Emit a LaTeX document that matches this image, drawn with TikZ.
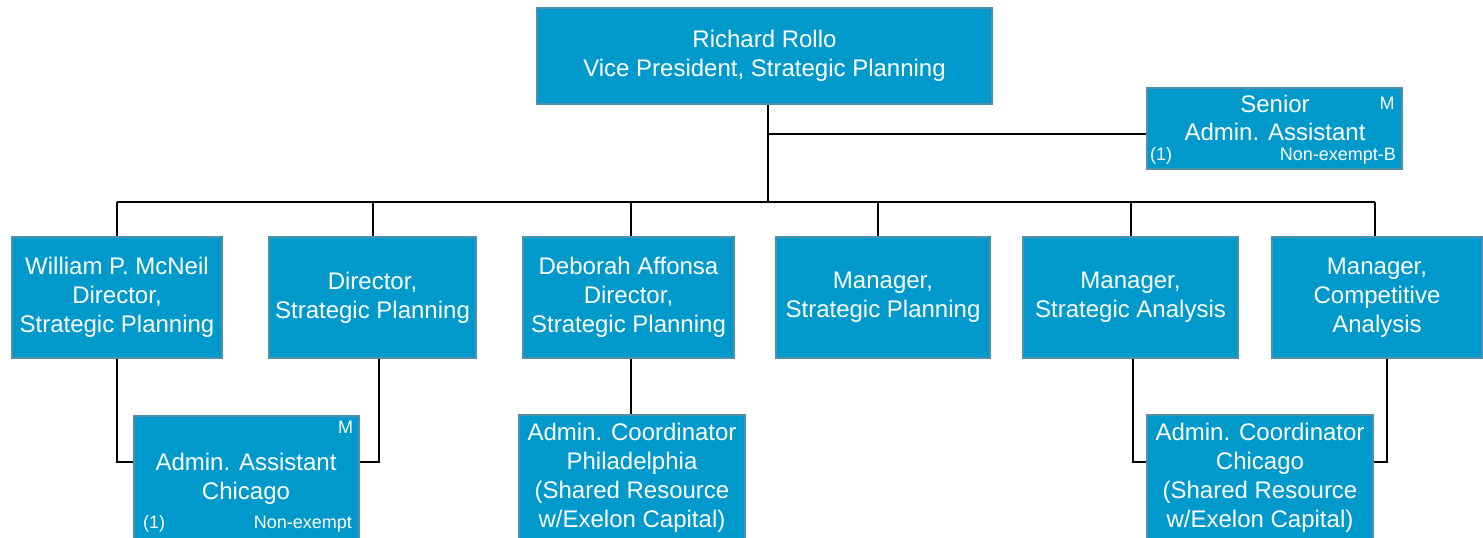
\documentclass[tikz,border=0pt]{standalone}
\usepackage{fontspec}
\setmainfont{Liberation Sans}
\definecolor{boxblue}{RGB}{0,153,204}
\definecolor{boxedge}{RGB}{80,144,172}
\begin{document}
\begin{tikzpicture}[x=1pt,y=-1pt,
  orgbox/.style={draw=boxedge, line width=2pt, fill=boxblue, text=white,
    font=\fontsize{24}{29}\selectfont, align=center, inner sep=0pt},
  bigtxt/.style={text=white, font=\fontsize{24}{28.5}\selectfont, align=center, inner sep=0pt},
  smalltxt/.style={text=white, font=\fontsize{18}{20}\selectfont, inner sep=0pt},
  conn/.style={draw=black, line width=1.4pt}]
\useasboundingbox (0,0) rectangle (1483,538);
\clip (0,0) rectangle (1483,538);
% top
\node[orgbox, minimum width=455pt, minimum height=96pt] (top) at (764.5,56)
  {Richard Rollo\\Vice President, Strategic Planning};
\node[orgbox, minimum width=255pt, minimum height=81pt] (senior) at (1274.5,128.5) {};
\node[bigtxt] (seniortxt) at (1275,118) {Senior\\Admin. Assistant};
\node[smalltxt, anchor=center] (seniorM) at (1387,103) {M};
\node[smalltxt, anchor=west] (seniorN) at (1150,156) {(1)};
\node[smalltxt, anchor=east] (seniorE) at (1396,156) {Non-exempt-B};
% row 2
\node[orgbox, minimum width=210pt, minimum height=121pt] (b1) at (117,297.5)
  {William P. McNeil\\Director,\\Strategic Planning};
\node[orgbox, minimum width=207pt, minimum height=121pt] (b2) at (372.5,297.5)
  {Director,\\Strategic Planning};
\node[orgbox, minimum width=211pt, minimum height=121pt] (b3) at (628.5,297.5)
  {Deborah Affonsa\\Director,\\Strategic Planning};
\node[orgbox, minimum width=214pt, minimum height=121pt] (b4) at (883,297.5)
  {Manager,\\Strategic Planning};
\node[orgbox, minimum width=215pt, minimum height=121pt] (b5) at (1130.5,297.5)
  {Manager,\\Strategic Analysis};
\node[orgbox, minimum width=210pt, minimum height=121pt] (b6) at (1377,297.5)
  {Manager,\\Competitive\\Analysis};
% bottom row
\node[orgbox, minimum width=225pt, minimum height=126pt] (aa) at (246,479)
  {Admin. Assistant\\Chicago};
\node[smalltxt, anchor=center] (aaM) at (345.5,427) {M};
\node[smalltxt, anchor=west] (aaN) at (143,524) {(1)};
\node[smalltxt, anchor=east] (aaE) at (352,524) {Non-exempt};
\node[orgbox, minimum width=226pt, minimum height=126pt] (ph) at (632,478)
  {Admin. Coordinator\\Philadelphia\\(Shared Resource\\w/Exelon Capital)};
\node[orgbox, minimum width=226pt, minimum height=126pt] (ch) at (1260,478)
  {Admin. Coordinator\\Chicago\\(Shared Resource\\w/Exelon Capital)};
% connector coordinates
\coordinate (bus) at (768,202);
\coordinate (sj) at (768,134);
\coordinate (d1) at (117,202);
\coordinate (d2) at (373,202);
\coordinate (d3) at (631,202);
\coordinate (d4) at (878,202);
\coordinate (d5) at (1131,202);
\coordinate (d6) at (1375,202);
\coordinate (ya) at (0,462);
\coordinate (xr) at (379,0);
\coordinate (xc1) at (1133,0);
\coordinate (xc2) at (1387,0);
% connectors
\draw[conn] (top.south -| bus) -- (bus);
\draw[conn] (sj) -- (senior.west |- sj);
\draw[conn] (d1) -- (d6);
\foreach \i in {1,...,6} {\draw[conn] (d\i) -- (b\i.north -| d\i);}
\draw[conn] (b1.south -| d1) |- (aa.west |- ya);
\draw[conn] (b2.south -| xr) |- (aa.east |- ya);
\draw[conn] (b3.south -| d3) -- (ph.north -| d3);
\draw[conn] (b5.south -| xc1) |- (ch.west |- ya);
\draw[conn] (b6.south -| xc2) |- (ch.east |- ya);
\end{tikzpicture}
\end{document}
